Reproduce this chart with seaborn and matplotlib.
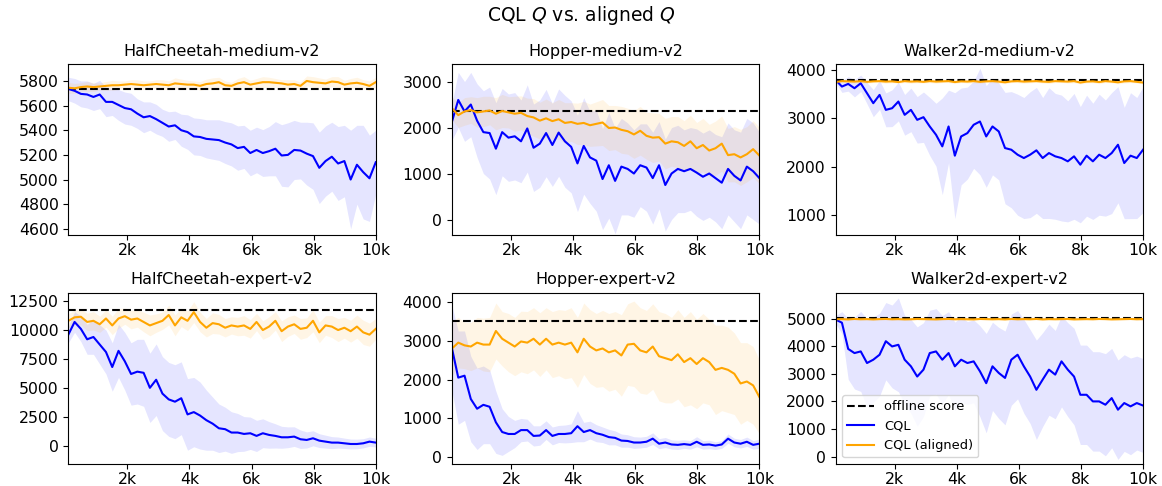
import numpy as np
import matplotlib
matplotlib.use("Agg")
import matplotlib.pyplot as plt
import seaborn as sns

# Training steps at which Q estimates were logged
steps = np.linspace(100, 10000, 50)

# ---- HalfCheetah-medium-v2 ----
hc_med_offline = 5735
hc_med_cql = [5735, 5720, 5695, 5690, 5670, 5690, 5630, 5630, 5605, 5580,
              5570, 5535, 5505, 5515, 5490, 5460, 5430, 5440, 5400, 5385,
              5350, 5345, 5330, 5325, 5320, 5300, 5285, 5255, 5265, 5215,
              5240, 5215, 5230, 5250, 5195, 5200, 5240, 5235, 5210, 5190,
              5095, 5150, 5185, 5130, 5150, 5000, 5120, 5060, 5010, 5140]
hc_med_cql_std = [95, 100, 105, 110, 110, 115, 120, 110, 125, 130,
                  130, 120, 125, 115, 120, 110, 120, 115, 130, 140,
                  150, 150, 155, 160, 165, 170, 175, 180, 175, 185,
                  185, 190, 200, 220, 250, 260, 240, 230, 255, 270,
                  290, 285, 280, 300, 290, 400, 320, 380, 350, 260]
hc_med_al = [5745, 5740, 5750, 5755, 5750, 5755, 5760, 5765, 5765, 5770,
             5775, 5770, 5765, 5770, 5775, 5770, 5765, 5780, 5775, 5770,
             5770, 5760, 5775, 5780, 5790, 5765, 5760, 5780, 5790, 5770,
             5780, 5790, 5790, 5785, 5780, 5770, 5775, 5760, 5800, 5790,
             5785, 5780, 5795, 5790, 5770, 5780, 5785, 5775, 5760, 5790]
hc_med_al_std = [45, 40, 35, 40, 35, 30, 35, 40, 35, 30,
                 35, 40, 35, 30, 35, 40, 35, 45, 40, 35,
                 30, 35, 40, 45, 40, 35, 30, 40, 45, 35,
                 40, 45, 40, 35, 30, 40, 35, 30, 40, 45,
                 40, 35, 40, 45, 35, 40, 45, 35, 40, 40]

# ---- Hopper-medium-v2 ----
hop_med_offline = 2370
hop_med_cql = [2130, 2600, 2350, 2500, 2150, 1900, 1880, 1540, 1900, 1780,
               1810, 1700, 1980, 1560, 1650, 1880, 1620, 1890, 1700, 1580,
               1220, 1600, 1350, 1280, 880, 1180, 840, 1150, 1100, 1000,
               1180, 1130, 900, 1180, 750, 1000, 1100, 1050, 1100, 1020,
               930, 1000, 900, 800, 1100, 950, 850, 1150, 1050, 900]
hop_med_cql_std = [400, 600, 650, 700, 800, 900, 1000, 1000, 950, 950,
                   950, 900, 950, 950, 950, 950, 900, 950, 1000, 1000,
                   1050, 1050, 1000, 1100, 1100, 1150, 1150, 1050, 1000, 950,
                   900, 950, 1000, 950, 1000, 1000, 950, 900, 900, 950,
                   950, 950, 950, 1000, 1000, 1000, 1050, 1050, 1050, 1000]
hop_med_al = [2420, 2270, 2350, 2380, 2330, 2350, 2370, 2300, 2360, 2330,
              2300, 2320, 2250, 2220, 2150, 2200, 2140, 2180, 2100, 2120,
              2080, 2100, 2050, 2080, 2110, 1990, 2000, 1950, 1920, 1850,
              1930, 1820, 1780, 1790, 1650, 1700, 1680, 1600, 1700, 1550,
              1620, 1500, 1550, 1650, 1400, 1420, 1350, 1420, 1530, 1390]
hop_med_al_std = [250, 270, 300, 290, 320, 330, 310, 350, 360, 340,
                  380, 370, 390, 410, 400, 420, 400, 430, 440, 420,
                  450, 470, 460, 480, 500, 490, 480, 510, 500, 520,
                  530, 510, 540, 520, 550, 540, 560, 550, 570, 560,
                  580, 570, 590, 600, 580, 600, 610, 600, 620, 610]

# ---- Walker2d-medium-v2 ----
walk_med_offline = 3794
walk_med_cql = [3794, 3657, 3712, 3623, 3725, 3520, 3314, 3485, 3176, 3210,
                3348, 3073, 3176, 2970, 3025, 2833, 2662, 2422, 2833, 2230,
                2627, 2696, 2868, 2936, 2627, 2833, 2730, 2387, 2353, 2250,
                2181, 2250, 2340, 2181, 2284, 2216, 2181, 2113, 2216, 2044,
                2230, 2113, 2250, 2181, 2284, 2456, 2078, 2230, 2181, 2353]
walk_med_cql_std = [60, 120, 150, 180, 170, 220, 280, 300, 350, 380,
                    400, 420, 450, 480, 520, 600, 650, 1000, 750, 1300,
                    1000, 950, 900, 1100, 1050, 1000, 1000, 1150, 1200, 1250,
                    1250, 1300, 1300, 1250, 1350, 1300, 1300, 1250, 1300, 1200,
                    1250, 1200, 1250, 1200, 1250, 1200, 1150, 1300, 1250, 1300]
walk_med_al = [3750, 3770, 3765, 3760, 3770, 3755, 3765, 3770, 3760, 3765,
               3750, 3770, 3760, 3765, 3755, 3770, 3760, 3765, 3770, 3750,
               3765, 3760, 3770, 3755, 3765, 3770, 3760, 3745, 3765, 3770,
               3760, 3765, 3770, 3760, 3755, 3770, 3765, 3760, 3770, 3740,
               3760, 3765, 3750, 3770, 3760, 3745, 3765, 3770, 3755, 3740]
walk_med_al_std = [30, 25, 30, 35, 25, 30, 25, 30, 35, 30,
                   25, 30, 35, 30, 25, 30, 35, 25, 30, 30,
                   25, 30, 35, 30, 25, 30, 35, 30, 25, 30,
                   35, 30, 25, 30, 35, 30, 25, 30, 35, 30,
                   25, 30, 35, 30, 25, 30, 35, 30, 25, 30]

# ---- HalfCheetah-expert-v2 ----
hc_exp_offline = 11770
hc_exp_cql = [9600, 10700, 10100, 9200, 9400, 8750, 8100, 6800, 8200, 7300,
              6200, 6400, 6300, 5000, 5700, 4500, 4000, 3800, 4100, 2700,
              2900, 2600, 2200, 1900, 1500, 1420, 1130, 1130, 1010, 1070,
              840, 1070, 925, 840, 720, 720, 780, 550, 490, 635,
              430, 345, 260, 260, 200, 140, 140, 200, 345, 260]
hc_exp_cql_std = [700, 900, 1100, 1300, 1500, 1700, 1900, 2100, 2300, 2500,
                  2700, 2800, 2900, 3000, 3100, 3200, 3200, 3200, 3150, 3100,
                  3000, 2900, 2600, 2300, 2100, 1900, 1800, 1650, 1500, 1400,
                  1350, 1250, 1150, 1050, 950, 900, 850, 800, 700, 650,
                  600, 560, 520, 480, 450, 430, 420, 400, 400, 380]
hc_exp_al = [10800, 11100, 11150, 10700, 10800, 10500, 11000, 10400, 11000, 11200,
             10900, 11000, 10700, 10400, 10600, 10800, 11300, 10400, 11100, 10800,
             11550, 10700, 10200, 10600, 10500, 10200, 10400, 10300, 10400, 10100,
             10700, 10000, 10300, 10800, 9900, 10300, 10500, 10100, 10200, 10800,
             9800, 10400, 10300, 10000, 10200, 9900, 10300, 9800, 9600, 10100]
hc_exp_al_std = [600, 650, 700, 750, 800, 700, 750, 800, 850, 700,
                 800, 750, 850, 900, 800, 750, 850, 900, 800, 850,
                 900, 850, 800, 900, 850, 800, 750, 800, 850, 800,
                 750, 800, 850, 800, 900, 850, 800, 900, 850, 950,
                 900, 850, 950, 1000, 900, 950, 1000, 1050, 1000, 900]

# ---- Hopper-expert-v2 ----
hop_exp_offline = 3518
hop_exp_cql = [2800, 2050, 2100, 1500, 1250, 1350, 1300, 900, 650, 600,
               600, 700, 700, 550, 560, 700, 550, 600, 600, 620,
               800, 650, 700, 620, 580, 520, 500, 430, 420, 380,
               380, 400, 480, 350, 380, 330, 320, 340, 320, 400,
               320, 330, 300, 330, 480, 380, 350, 400, 320, 350]
hop_exp_cql_std = [1100, 1200, 1150, 1100, 1050, 1000, 950, 800, 600, 450,
                   350, 300, 280, 260, 250, 240, 230, 220, 230, 240,
                   400, 250, 230, 220, 200, 200, 180, 170, 160, 150,
                   140, 140, 150, 130, 130, 120, 120, 110, 110, 130,
                   110, 110, 100, 100, 120, 110, 110, 120, 110, 120]
hop_exp_al = [2800, 2950, 2880, 2850, 2950, 2900, 2900, 3250, 3050, 2950,
              2850, 2980, 2950, 3050, 2900, 3050, 2900, 2950, 2900, 2950,
              2700, 3050, 2850, 2750, 2800, 2700, 2750, 2620, 2900, 2920,
              2750, 2700, 2850, 2600, 2550, 2500, 2650, 2450, 2550, 2400,
              2550, 2450, 2250, 2300, 2250, 2150, 1900, 1950, 1850, 1550]
hop_exp_al_std = [700, 650, 600, 620, 650, 680, 700, 720, 700, 750,
                  750, 780, 800, 800, 820, 800, 850, 850, 880, 900,
                  900, 920, 950, 950, 980, 1000, 1000, 1050, 1050, 1100,
                  1100, 1080, 1100, 1150, 1150, 1100, 1150, 1150, 1200, 1150,
                  1150, 1100, 1150, 1100, 1100, 1050, 1050, 1000, 1000, 950]

# ---- Walker2d-expert-v2 ----
walk_exp_offline = 5015
walk_exp_cql = [4964, 4850, 3900, 3750, 3810, 3390, 3510, 3690, 4180, 3990,
                4050, 3510, 3270, 2900, 3150, 3750, 3810, 3510, 3750, 3270,
                3510, 3390, 3450, 3090, 2660, 3270, 3030, 2850, 3510, 3690,
                3270, 2900, 2420, 2790, 3150, 2970, 3450, 3150, 2900, 2240,
                2240, 2000, 2000, 1880, 2120, 1700, 1940, 1820, 1940, 1850]
walk_exp_cql_std = [150, 400, 1100, 1300, 1450, 1600, 1550, 1500, 1400, 1500,
                    1700, 1600, 1700, 1800, 1700, 1550, 1550, 1600, 1500, 1600,
                    1550, 1500, 1500, 1650, 1800, 1600, 1650, 1700, 1650, 1600,
                    1700, 1700, 1800, 1700, 1650, 1600, 1650, 1700, 1750, 1800,
                    1800, 1800, 1800, 1850, 1800, 1800, 1750, 1750, 1700, 1700]
walk_exp_al = [4975, 4980, 4970, 4985, 4975, 4980, 4970, 4980, 4985, 4975,
               4980, 4970, 4975, 4985, 4980, 4975, 4970, 4980, 4985, 4975,
               4980, 4975, 4970, 4985, 4980, 4975, 4980, 4970, 4985, 4975,
               4980, 4975, 4985, 4970, 4980, 4975, 4980, 4985, 4970, 4975,
               4980, 4975, 4985, 4980, 4970, 4975, 4980, 4985, 4975, 4980]
walk_exp_al_std = [30, 35, 30, 25, 30, 35, 30, 25, 30, 35,
                   30, 25, 30, 35, 30, 25, 30, 35, 30, 25,
                   30, 35, 30, 25, 30, 35, 30, 25, 30, 35,
                   30, 25, 30, 35, 30, 25, 30, 35, 30, 25,
                   30, 35, 30, 25, 30, 35, 30, 25, 30, 35]

titles = ["HalfCheetah-medium-v2", "Hopper-medium-v2", "Walker2d-medium-v2",
          "HalfCheetah-expert-v2", "Hopper-expert-v2", "Walker2d-expert-v2"]
offline = [hc_med_offline, hop_med_offline, walk_med_offline,
           hc_exp_offline, hop_exp_offline, walk_exp_offline]
cql = [hc_med_cql, hop_med_cql, walk_med_cql, hc_exp_cql, hop_exp_cql, walk_exp_cql]
cql_std = [hc_med_cql_std, hop_med_cql_std, walk_med_cql_std,
           hc_exp_cql_std, hop_exp_cql_std, walk_exp_cql_std]
aligned = [hc_med_al, hop_med_al, walk_med_al, hc_exp_al, hop_exp_al, walk_exp_al]
aligned_std = [hc_med_al_std, hop_med_al_std, walk_med_al_std,
               hc_exp_al_std, hop_exp_al_std, walk_exp_al_std]

y_ticks = [[4600, 4800, 5000, 5200, 5400, 5600, 5800],
           [0, 1000, 2000, 3000],
           [1000, 2000, 3000, 4000],
           [0, 2500, 5000, 7500, 10000, 12500],
           [0, 1000, 2000, 3000, 4000],
           [0, 1000, 2000, 3000, 4000, 5000]]
y_limits = [(4546, 5935), (-347, 3375), (582, 4117),
            (-1590, 13222), (-172, 4232), (-266, 5932)]
x_ticks = [2000, 4000, 6000, 8000, 10000]
x_tick_labels = ["2k", "4k", "6k", "8k", "10k"]

fig, axes = plt.subplots(2, 3, figsize=(11.62, 4.86), dpi=100)
fig.subplots_adjust(left=0.0588, right=0.9837, top=0.8677, bottom=0.0453,
                    wspace=0.248, hspace=0.335)

for k, ax in enumerate(axes.flat):
    m_c = np.asarray(cql[k], float)
    s_c = np.asarray(cql_std[k], float)
    m_a = np.asarray(aligned[k], float)
    s_a = np.asarray(aligned_std[k], float)

    ax.axhline(offline[k], color="black", ls="--", lw=1.5, label="offline score")
    ax.fill_between(steps, m_c - s_c, m_c + s_c, color="blue", alpha=0.1, lw=0)
    sns.lineplot(x=steps, y=m_c, color="blue", lw=1.5, ax=ax, label="CQL")
    ax.fill_between(steps, m_a - s_a, m_a + s_a, color="orange", alpha=0.1, lw=0)
    sns.lineplot(x=steps, y=m_a, color="orange", lw=1.5, ax=ax, label="CQL (aligned)")

    ax.set_xlim(100, 10000)
    ax.set_ylim(*y_limits[k])
    ax.set_xticks(x_ticks)
    ax.set_xticklabels(x_tick_labels)
    ax.set_yticks(y_ticks[k])
    ax.tick_params(labelsize=11.3)
    ax.tick_params(axis="x", pad=2.2)
    ax.set_title(titles[k], fontsize=11.5)
    ax.set_xlabel("")
    ax.set_ylabel("")
    leg = ax.get_legend()
    if leg is not None:
        leg.remove()

axes[1, 2].legend(loc="lower left", fontsize=9.4)
fig.suptitle("CQL $Q$ vs. aligned $Q$", fontsize=13.5, y=0.969, va="center")

fig.savefig("out.png", dpi=100)
